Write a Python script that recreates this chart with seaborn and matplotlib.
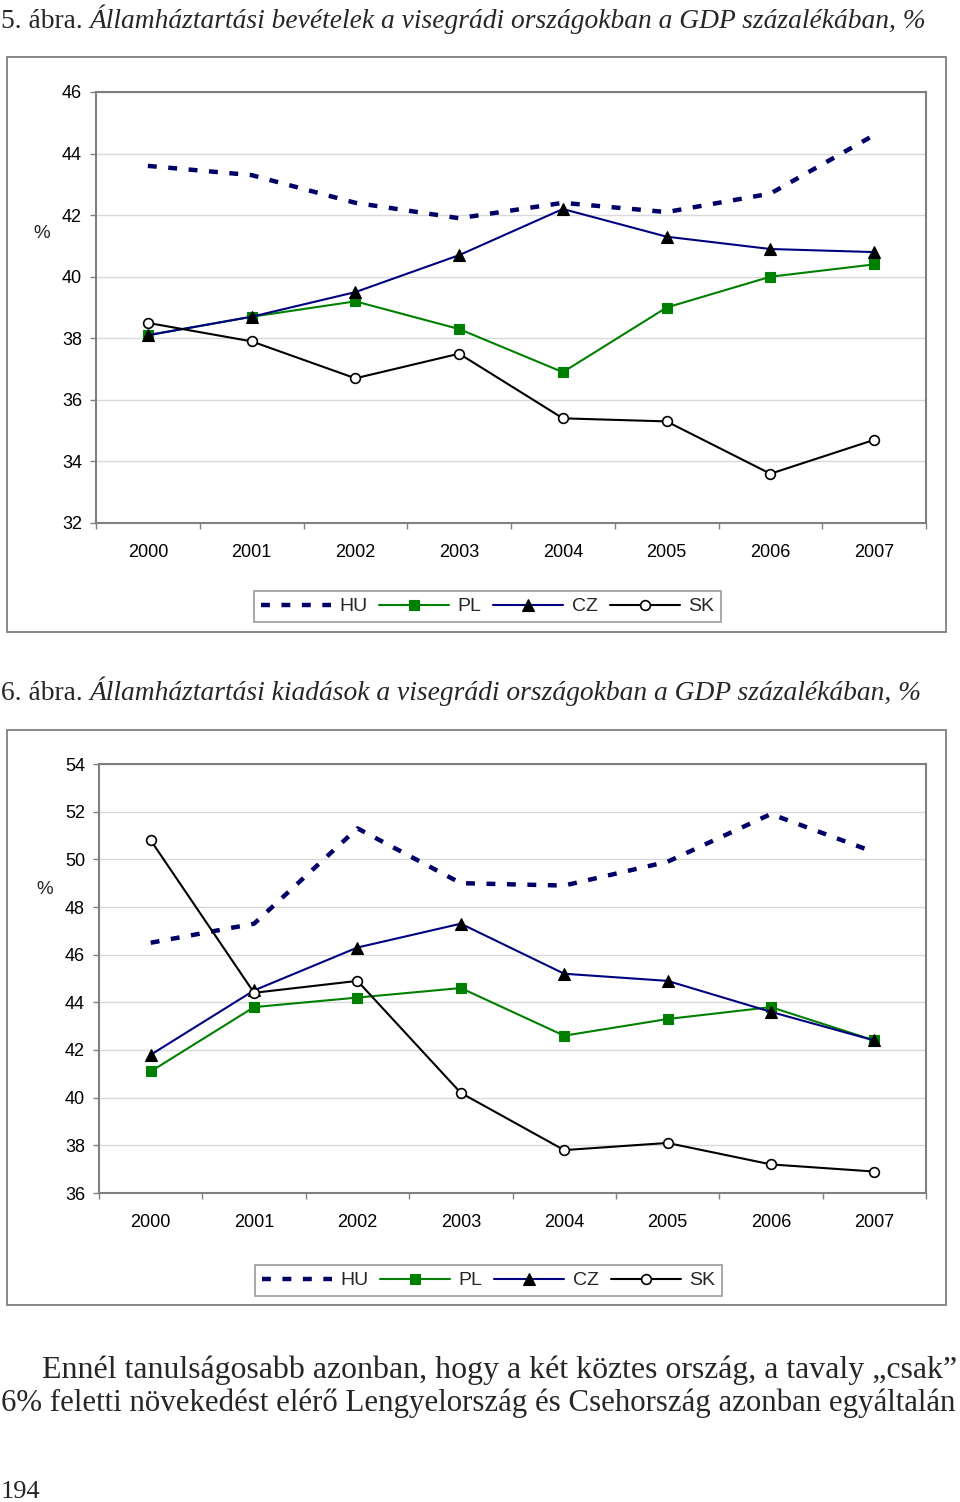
import numpy as np
import pandas as pd
import seaborn as sns
import matplotlib
matplotlib.use("Agg")
import matplotlib.pyplot as plt
from matplotlib.lines import Line2D
from matplotlib.patches import Rectangle

# ---------------- data ----------------
years = ["2000", "2001", "2002", "2003", "2004", "2005", "2006", "2007"]
countries = ["HU", "PL", "CZ", "SK"]

# Chart 5: revenues (% of GDP)
rev_hu = [43.6, 43.3, 42.4, 41.9, 42.4, 42.1, 42.7, 44.6]
rev_pl = [38.1, 38.7, 39.2, 38.3, 36.9, 39.0, 40.0, 40.4]
rev_cz = [38.1, 38.7, 39.5, 40.7, 42.2, 41.3, 40.9, 40.8]
rev_sk = [38.5, 37.9, 36.7, 37.5, 35.4, 35.3, 33.6, 34.7]
rev_yticks = [32, 34, 36, 38, 40, 42, 44, 46]

# Chart 6: expenditures (% of GDP)
exp_hu = [46.5, 47.3, 51.3, 49.0, 48.9, 49.9, 51.9, 50.3]
exp_pl = [41.1, 43.8, 44.2, 44.6, 42.6, 43.3, 43.8, 42.4]
exp_cz = [41.8, 44.5, 46.3, 47.3, 45.2, 44.9, 43.6, 42.4]
exp_sk = [50.8, 44.4, 44.9, 40.2, 37.8, 38.1, 37.2, 36.9]
exp_yticks = [36, 38, 40, 42, 44, 46, 48, 50, 52, 54]

title1_a = "5. ábra. "
title1_b = "Államháztartási bevételek a visegrádi országokban a GDP százalékában, %"
title2_a = "6. ábra. "
title2_b = "Államháztartási kiadások a visegrádi országokban a GDP százalékában, %"
body1 = "Ennél tanulságosabb azonban, hogy a két köztes ország, a tavaly „csak”"
body2 = "6% feletti növekedést elérő Lengyelország és Csehország azonban egyáltalán"
page_no = "194"

# ---------------- styles ----------------
sns.set_theme(style="white")
plt.rcParams["font.family"] = ["Liberation Sans", "DejaVu Sans"]

W, H = 960, 1502
fig = plt.figure(figsize=(W / 100, H / 100), dpi=100)
fig.patch.set_facecolor("white")

GRAY = "#808080"
NAVY = "#000066"
CZNAVY = "#000080"
GREEN = "#008000"

STYLES = {
    "HU": dict(color=NAVY, lw=3.2, linestyle=(0, (2.0, 2.6)), solid_capstyle="butt",
               dash_capstyle="butt", marker=None),
    "PL": dict(color=GREEN, lw=1.5, marker="s", markersize=7.5,
               markerfacecolor=GREEN, markeredgecolor=GREEN, markeredgewidth=0.8),
    "CZ": dict(color=CZNAVY, lw=1.5, marker="^", markersize=8.5,
               markerfacecolor="black", markeredgecolor="black", markeredgewidth=0.8),
    "SK": dict(color="black", lw=1.5, marker="o", markersize=7,
               markerfacecolor="white", markeredgecolor="black", markeredgewidth=1.2),
}


def fx(px):
    return px / W


def fy(py):
    return 1 - py / H


def frame(x0, y0, x1, y1):
    fig.patches.append(Rectangle((fx(x0), fy(y1)), fx(x1) - fx(x0), fy(y0) - fy(y1),
                                 transform=fig.transFigure, fill=False,
                                 edgecolor=GRAY, lw=1.3))


def chart(box, plot, yticks, series, pct_xy, legend_c, xpad):
    frame(*box)
    x0, y0, x1, y1 = plot
    ax = fig.add_axes([fx(x0), fy(y1), fx(x1) - fx(x0), fy(y0) - fy(y1)])
    df = pd.DataFrame({"idx": np.arange(len(years)), "year": years})
    for c in countries:
        df[c] = series[c]
    for c in countries:
        st = dict(STYLES[c])
        sns.lineplot(data=df, x="idx", y=c, ax=ax, errorbar=None, sort=False,
                     label=c, legend=False, **st)
    ax.set_xlim(-0.5, len(years) - 0.5)
    ax.set_ylim(yticks[0], yticks[-1])
    ax.set_yticks(yticks)
    ax.set_yticklabels([str(t) for t in yticks])
    ax.set_xticks(np.arange(len(years)))
    ax.set_xticklabels(years)
    ax.set_xticks(np.arange(len(years) + 1) - 0.5, minor=True)
    ax.tick_params(axis="x", which="major", length=0, pad=xpad, labelsize=13,
                   colors="black")
    ax.tick_params(axis="x", which="minor", length=4, width=1, color=GRAY,
                   direction="out", bottom=True)
    ax.tick_params(axis="y", which="major", length=4, width=1, color=GRAY,
                   direction="out", left=True, pad=6, labelsize=13, labelcolor="black")
    ax.grid(axis="y", color="#d9d9d9", lw=1)
    ax.grid(axis="x", visible=False)
    ax.set_axisbelow(True)
    for s in ax.spines.values():
        s.set_color(GRAY)
        s.set_linewidth(1.5)
        s.set_visible(True)
    ax.set_xlabel("")
    ax.set_ylabel("")
    fig.text(fx(pct_xy[0]), fy(pct_xy[1]), "%", ha="center", va="center", fontsize=13.5)

    handles = []
    for c in countries:
        st = dict(STYLES[c])
        handles.append(Line2D([], [], **st))
    leg = fig.legend(handles, countries, loc="center",
                     bbox_to_anchor=(fx(legend_c[0]), fy(legend_c[1])),
                     ncol=4, fontsize=14, frameon=True, fancybox=False,
                     edgecolor=GRAY, handlelength=3.6, handletextpad=0.45,
                     columnspacing=0.6, borderpad=0.35, borderaxespad=0,
                     numpoints=1)
    leg.get_frame().set_linewidth(1.2)
    leg.get_frame().set_facecolor("white")
    return ax


chart((7, 57, 946, 632), (96, 92, 926, 523), rev_yticks,
      {"HU": rev_hu, "PL": rev_pl, "CZ": rev_cz, "SK": rev_sk},
      (42, 233), (487.5, 606.5), 15)
chart((7, 730, 946, 1305), (99, 764, 926, 1193), exp_yticks,
      {"HU": exp_hu, "PL": exp_pl, "CZ": exp_cz, "SK": exp_sk},
      (45, 890), (488.5, 1280.5), 15)

# ---------------- serif texts, fitted to width ----------------
renderer = fig.canvas.get_renderer()
SERIF = ["Liberation Serif", "DejaVu Serif"]


def two_part(x_left, x_right, y_base, a, b, fs0=20):
    t1 = fig.text(fx(x_left), fy(y_base), a, fontsize=fs0, family=SERIF, va="baseline")
    t2 = fig.text(0, fy(y_base), b, fontsize=fs0, family=SERIF, style="italic",
                  va="baseline")
    w = t1.get_window_extent(renderer).width + t2.get_window_extent(renderer).width
    fs = fs0 * (x_right - x_left) / w
    t1.set_fontsize(fs)
    t2.set_fontsize(fs)
    e1 = t1.get_window_extent(renderer)
    t2.set_x(fx(x_left + e1.width))


def fitted(x_left, x_right, y_base, s, fs0=20):
    t = fig.text(fx(x_left), fy(y_base), s, fontsize=fs0, family=SERIF, va="baseline")
    w = t.get_window_extent(renderer).width
    t.set_fontsize(fs0 * (x_right - x_left) / w)


two_part(1, 928, 28, title1_a, title1_b)
two_part(1, 922, 700, title2_a, title2_b)
fitted(42, 955, 1378, body1)
fitted(1, 955, 1411, body2)
fig.text(fx(1), fy(1498), page_no, fontsize=19, family=SERIF, va="baseline")

fig.savefig("out.png", dpi=100, facecolor="white")
